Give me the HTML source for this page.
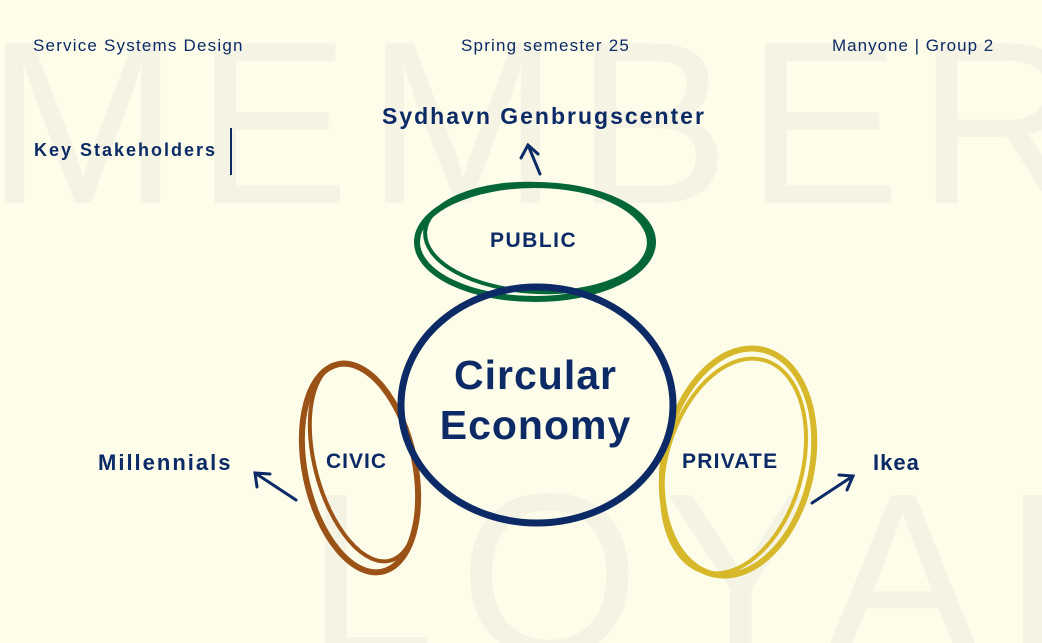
<!DOCTYPE html>
<html><head><meta charset="utf-8"><style>
html,body{margin:0;padding:0;width:1042px;height:643px;overflow:hidden}
body{background:#fefde9;position:relative;font-family:"Liberation Sans",sans-serif;color:#0c2a66}
#bg{position:absolute;left:0;top:0;width:1042px;height:643px;overflow:hidden}
.wm{position:absolute;font-weight:normal;color:#f5f4e4;font-size:232px;line-height:1;white-space:nowrap}
.t{position:absolute;white-space:nowrap}
</style></head><body>
<div id="bg">
<div class="wm" style="left:-14px;top:8px;letter-spacing:16px">MEMBER</div>
<div class="wm" style="left:306px;top:460px;letter-spacing:24px">LOYAL</div>
</div>
<div class="t" style="left:33px;top:36px;font-size:17px;letter-spacing:1.2px">Service Systems Design</div>
<div class="t" style="left:461px;top:36px;font-size:17px;letter-spacing:1.2px">Spring semester 25</div>
<div class="t" style="left:832px;top:36px;font-size:17px;letter-spacing:1px">Manyone | Group 2</div>
<div class="t" style="left:34px;top:140px;font-size:18px;font-weight:bold;letter-spacing:2px">Key Stakeholders</div>
<div style="position:absolute;left:230px;top:128px;width:2px;height:47px;background:#0c2a66"></div>
<svg width="1042" height="643" style="position:absolute;left:0;top:0">
<g fill="none" stroke-linecap="round">
<ellipse cx="535" cy="242" rx="118" ry="57" stroke="#056638" stroke-width="6"/>
<ellipse cx="537" cy="238" rx="112" ry="54" stroke="#056638" stroke-width="4" transform="rotate(3 537 238)"/>
<ellipse cx="360" cy="468" rx="55" ry="106" stroke="#9a5216" stroke-width="6" transform="rotate(-12 360 468)"/>
<ellipse cx="364" cy="462" rx="49" ry="102" stroke="#9a5216" stroke-width="4" transform="rotate(-15 364 462)"/>
<ellipse cx="738" cy="462" rx="74" ry="115" stroke="#d6b82a" stroke-width="6" transform="rotate(12 738 462)"/>
<ellipse cx="734" cy="466" rx="68" ry="110" stroke="#d6b82a" stroke-width="4" transform="rotate(16 734 466)"/>
<ellipse cx="537" cy="405" rx="136" ry="118" stroke="#0c2a66" stroke-width="7"/>
<g stroke="#0c2a66" stroke-width="3">
<path d="M540 174 L528 145 M521 158 L528 145 L538 154"/>
<path d="M296 500 L255 473 M257 487 L255 473 L270 474"/>
<path d="M812 503 L853 476 M839 475 L853 476 L847 490"/>
</g></g></svg>
<div class="t" style="left:382px;top:103px;font-size:23px;font-weight:bold;letter-spacing:2px">Sydhavn Genbrugscenter</div>
<div class="t" style="left:490px;top:229px;font-size:21px;font-weight:bold;letter-spacing:1.5px">PUBLIC</div>
<div class="t" style="left:418px;top:350px;width:235px;text-align:center;font-size:41px;font-weight:bold;line-height:50px;letter-spacing:1px">Circular<br>Economy</div>
<div class="t" style="left:326px;top:450px;font-size:21px;font-weight:bold;letter-spacing:1px">CIVIC</div>
<div class="t" style="left:98px;top:450px;font-size:22px;font-weight:bold;letter-spacing:2px">Millennials</div>
<div class="t" style="left:682px;top:450px;font-size:21px;font-weight:bold;letter-spacing:1.2px">PRIVATE</div>
<div class="t" style="left:873px;top:450px;font-size:22px;font-weight:bold;letter-spacing:1px">Ikea</div>
</body></html>
